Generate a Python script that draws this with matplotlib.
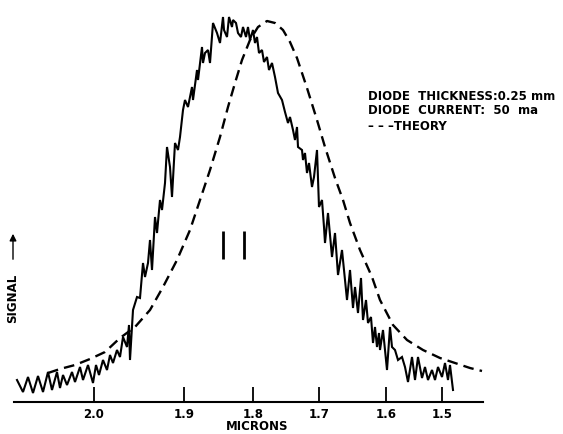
import matplotlib
matplotlib.use("Agg")
import matplotlib.pyplot as plt

# scan position along the spectrometer drum (arbitrary units) and signal height
sig_pos = [17, 23, 28, 33, 38, 43, 48, 52, 57, 60, 63, 67, 72, 75, 80, 83, 88, 93, 96, 99,
           103, 107, 110, 113, 117, 120, 123, 127, 129, 130, 133, 137, 140, 143, 145, 148,
           150, 152, 155, 157, 160, 162, 165, 167, 170, 172, 175, 178, 180, 183, 185, 188,
           192, 193, 197, 198, 202, 203, 205, 208, 210, 213, 217, 220, 223, 224, 227, 229,
           232, 233, 236, 238, 241, 243, 246, 248, 250, 253, 255, 257, 259, 262, 264, 267,
           269, 272, 275, 278, 282, 285, 288, 290, 293, 295, 297, 298, 302, 303, 305, 307,
           309, 312, 314, 317, 319, 322, 324, 325, 328, 332, 335, 338, 342, 347, 350, 353,
           355, 358, 361, 363, 366, 368, 371, 373, 375, 377, 379, 380, 383, 387, 390, 392,
           395, 398, 402, 405, 408, 412, 415, 418, 422, 425, 428, 432, 435, 438, 442, 445,
           448, 450, 453]
signal = [22, 10, 25, 9, 26, 10, 30, 12, 30, 14, 27, 17, 30, 20, 35, 22, 37, 19, 37, 27,
          42, 32, 47, 39, 52, 45, 65, 55, 77, 42, 92, 105, 104, 139, 125, 139,
          162, 132, 185, 169, 202, 192, 219, 255, 235, 205, 259, 252, 265, 292, 302, 295,
          315, 302, 332, 322, 355, 339, 349, 352, 339, 379, 369, 359, 385, 372, 365, 385,
          375, 382, 379, 369, 365, 375, 365, 375, 362, 372, 359, 365, 349, 352, 340, 345,
          332, 339, 325, 309, 302, 290, 279, 285, 272, 262, 275, 255, 252, 242, 249, 229,
          239, 215, 225, 252, 195, 202, 175, 159, 189, 145, 169, 127, 152, 102, 132, 94,
          115, 89, 124, 82, 102, 79, 85, 59, 75, 55, 69, 52, 72, 32, 75, 55,
          52, 42, 45, 35, 20, 45, 22, 45, 24, 35, 22, 32, 22, 35, 25, 39,
          22, 37, 12]

theory_pos = [48, 60, 75, 90, 105, 120, 135, 150, 163, 177, 190, 200, 210, 220, 228, 235,
              242, 250, 258, 267, 275, 283, 290, 297, 307, 317, 325, 335, 343, 350, 360,
              372, 380, 393, 407, 423, 440, 458, 470, 482]
theory = [29, 33, 37, 43, 50, 64, 75, 92, 115, 142, 172, 202, 232, 265, 295, 319,
          342, 362, 375, 381, 379, 372, 360, 344, 314, 282, 255, 224, 202, 179, 152,
          125, 102, 77, 62, 52, 44, 38, 34, 31]

tick_pos = [94, 184, 253, 319, 386, 442]
tick_labels = ["2.0", "1.9", "1.8", "1.7", "1.6", "1.5"]

fnt = dict(family="DejaVu Sans", fontweight="bold", fontsize=8.5)

fig = plt.figure(figsize=(5.63, 4.34), dpi=100)
ax = fig.add_axes([14 / 563, 32 / 434, 469 / 563, 402 / 434])

ax.plot(sig_pos, signal, color="black", lw=1.5, solid_joinstyle="miter")
ax.plot(theory_pos, theory, color="black", lw=1.7, dashes=(4.5, 2.6))

# the two slit-width marks
ax.vlines([223, 244], 143, 171, color="black", lw=2)

ax.set_xlim(14, 483)
ax.set_ylim(0, 402)
for s in ["left", "right", "top"]:
    ax.spines[s].set_visible(False)
ax.spines["bottom"].set_linewidth(1.5)
ax.set_yticks([])
ax.set_xticks(tick_pos)
ax.set_xticklabels(tick_labels, **fnt)
ax.tick_params(axis="x", direction="in", length=11, width=1.3, pad=4)

# axis title placed by hand so it stays inside the image
fig.text(257 / 563, 1 - 427 / 434, "MICRONS", ha="center", va="center", **fnt)

ax.text(368, 306, "DIODE  THICKNESS:0.25 mm", va="center", **fnt)
ax.text(368, 291, "DIODE  CURRENT:  50  ma", va="center", **fnt)
ax.text(368, 275, "– – –THEORY", va="center", **fnt)

fig.text(13 / 563, 1 - 298 / 434, "SIGNAL", rotation=90, ha="center", va="center", **fnt)
fig.add_artist(matplotlib.patches.FancyArrowPatch(
    (13 / 563, 1 - 262 / 434), (13 / 563, 1 - 231 / 434), transform=fig.transFigure,
    arrowstyle="-|>,head_length=4,head_width=2", color="black", lw=1))

fig.savefig("out.png", dpi=100)
